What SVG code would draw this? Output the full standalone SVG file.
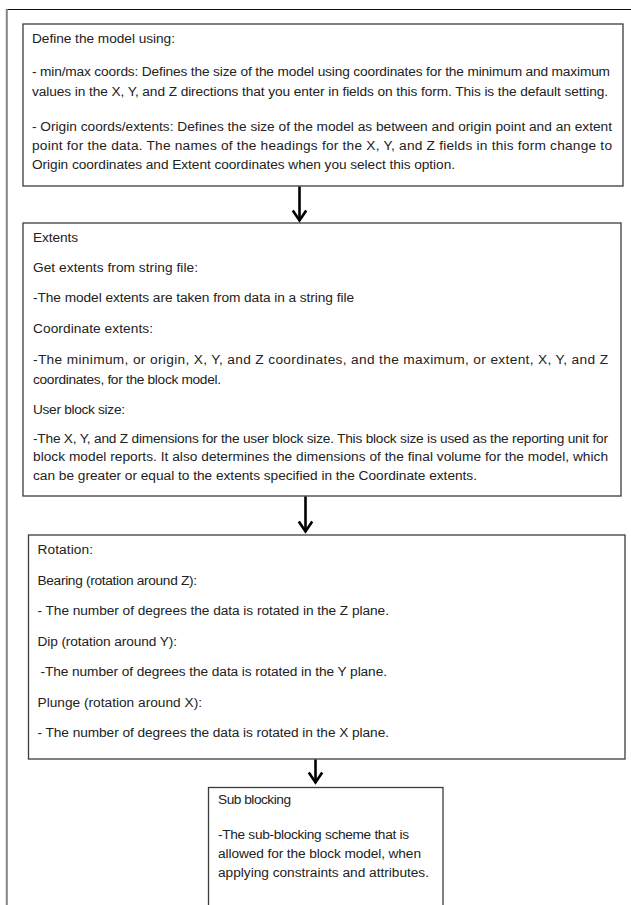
<svg xmlns="http://www.w3.org/2000/svg" width="631" height="905" viewBox="0 0 631 905">
<style>
  .box { fill: #ffffff; stroke: #3c3c3c; stroke-width: 1.3; }
  .t { font-family: "Liberation Sans", Arial, sans-serif; font-size: 13.7px; fill: #222222; }
  .conn line { stroke: #000000; stroke-width: 2.6; }
  .conn path { fill: none; stroke: #000000; stroke-width: 2.6; stroke-linejoin: miter; }
  .frame { stroke-linecap: butt; }
</style>
<rect x="0" y="0" width="631" height="905" fill="#ffffff"/>
<g id="frame" class="frame">
  <line x1="6" y1="9.5" x2="631" y2="9.5" stroke="#111111" stroke-width="1.2"/>
  <line x1="6.8" y1="9" x2="6.8" y2="905" stroke="#858585" stroke-width="2"/>
</g>

<g id="node-define">
  <rect class="box" x="23" y="24" width="600" height="162"/>
  <text class="t" x="32" y="43" textLength="143" lengthAdjust="spacing">Define the model using:</text>
  <text class="t" x="32" y="76" textLength="578" lengthAdjust="spacing">- min/max coords: Defines the size of the model using coordinates for the minimum and maximum</text>
  <text class="t" x="32" y="96" textLength="576" lengthAdjust="spacing">values in the X, Y, and Z directions that you enter in fields on this form. This is the default setting.</text>
  <text class="t" x="32" y="131" textLength="580" lengthAdjust="spacing">- Origin coords/extents: Defines the size of the model as between and origin point and an extent</text>
  <text class="t" x="32" y="150" textLength="580" lengthAdjust="spacing">point for the data. The names of the headings for the X, Y, and Z fields in this form change to</text>
  <text class="t" x="32" y="169" textLength="423" lengthAdjust="spacing">Origin coordinates and Extent coordinates when you select this option.</text>
</g>

<g id="node-extents">
  <rect class="box" x="23" y="223" width="598" height="273"/>
  <text class="t" x="33" y="242" textLength="45" lengthAdjust="spacing">Extents</text>
  <text class="t" x="33" y="272" textLength="165" lengthAdjust="spacing">Get extents from string file:</text>
  <text class="t" x="33" y="302" textLength="321" lengthAdjust="spacing">-The model extents are taken from data in a string file</text>
  <text class="t" x="33" y="333" textLength="120" lengthAdjust="spacing">Coordinate extents:</text>
  <text class="t" x="33" y="364" textLength="575" lengthAdjust="spacing">-The minimum, or origin, X, Y, and Z coordinates, and the maximum, or extent, X, Y, and Z</text>
  <text class="t" x="33" y="384" textLength="188" lengthAdjust="spacing">coordinates, for the block model.</text>
  <text class="t" x="33" y="414" textLength="92" lengthAdjust="spacing">User block size:</text>
  <text class="t" x="33" y="443" textLength="575" lengthAdjust="spacing">-The X, Y, and Z dimensions for the user block size. This block size is used as the reporting unit for</text>
  <text class="t" x="33" y="461" textLength="575" lengthAdjust="spacing">block model reports. It also determines the dimensions of the final volume for the model, which</text>
  <text class="t" x="33" y="480" textLength="444" lengthAdjust="spacing">can be greater or equal to the extents specified in the Coordinate extents.</text>
</g>

<g id="node-rotation">
  <rect class="box" x="28.5" y="535" width="596.5" height="224"/>
  <text class="t" x="37.5" y="554" textLength="55.5" lengthAdjust="spacing">Rotation:</text>
  <text class="t" x="37.5" y="585" textLength="159.5" lengthAdjust="spacing">Bearing (rotation around Z):</text>
  <text class="t" x="37.5" y="615" textLength="351.5" lengthAdjust="spacing">- The number of degrees the data is rotated in the Z plane.</text>
  <text class="t" x="37.5" y="646" textLength="139.5" lengthAdjust="spacing">Dip (rotation around Y):</text>
  <text class="t" x="40.5" y="676" textLength="346.5" lengthAdjust="spacing">-The number of degrees the data is rotated in the Y plane.</text>
  <text class="t" x="37.5" y="707" textLength="164.5" lengthAdjust="spacing">Plunge (rotation around X):</text>
  <text class="t" x="37.5" y="737" textLength="351.5" lengthAdjust="spacing">- The number of degrees the data is rotated in the X plane.</text>
</g>

<g id="node-subblocking">
  <rect class="box" x="208.5" y="787.5" width="234.5" height="130"/>
  <text class="t" x="218" y="804" textLength="73" lengthAdjust="spacing">Sub blocking</text>
  <text class="t" x="218" y="839" textLength="191" lengthAdjust="spacing">-The sub-blocking scheme that is</text>
  <text class="t" x="218" y="858" textLength="203" lengthAdjust="spacing">allowed for the block model, when</text>
  <text class="t" x="218" y="877" textLength="211" lengthAdjust="spacing">applying constraints and attributes.</text>
</g>

<g id="connectors" class="conn">
  <line x1="299.5" y1="186.5" x2="299.5" y2="220.5"/>
  <path d="M292.8,210.5 L299.5,220.5 L306.2,210.5"/>
  <line x1="305.5" y1="496.5" x2="305.5" y2="531.5"/>
  <path d="M298.8,521.5 L305.5,531.5 L312.2,521.5"/>
  <line x1="315.5" y1="759.5" x2="315.5" y2="782.5"/>
  <path d="M308.8,772.5 L315.5,782.5 L322.2,772.5"/>
</g>
</svg>
